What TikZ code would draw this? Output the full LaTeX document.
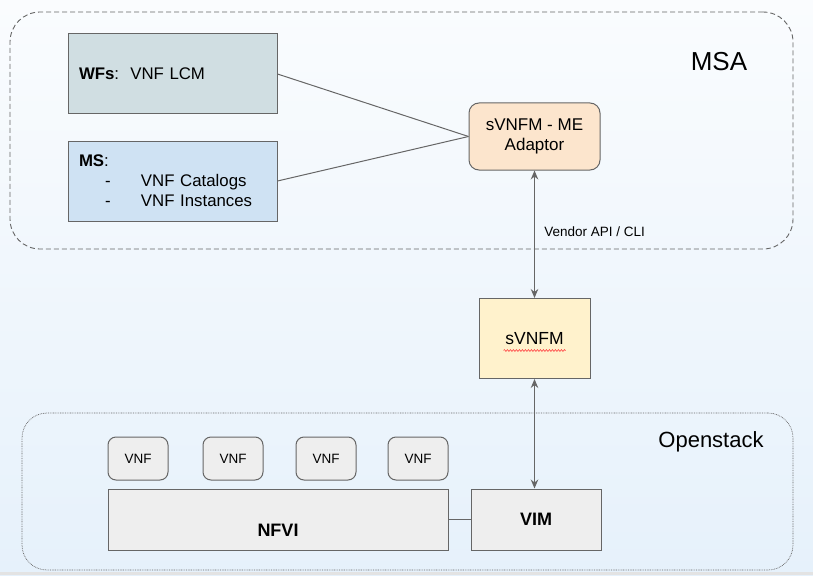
\documentclass[tikz,border=0pt]{standalone}
\usepackage{fontspec}
\setmainfont{Liberation Sans}
\usepackage{xcolor}
\usepackage{tikz}
\usetikzlibrary{arrows.meta}
\usetikzlibrary{decorations.pathmorphing}

\definecolor{edgegray}{HTML}{666666}
\definecolor{wfsfill}{HTML}{D0DEE2}
\definecolor{msfill}{HTML}{CFE2F3}
\definecolor{adaptorfill}{HTML}{FCE5CD}
\definecolor{svnfmfill}{HTML}{FFF2CC}
\definecolor{infrafill}{HTML}{EEEEEE}
\definecolor{bgtop}{HTML}{FAFCFE}
\definecolor{bgbottom}{HTML}{E6F1FB}

\tikzset{
  box/.style={draw=edgegray, line width=1pt, inner sep=0pt},
  zone/.style={draw=edgegray, line width=0.9pt, inner sep=0pt},
  link/.style={draw=edgegray, line width=1pt},
  both/.style={link, {Stealth[length=9pt,width=7.5pt,inset=3pt]}-{Stealth[length=9pt,width=7.5pt,inset=3pt]}},
}

\begin{document}
\begin{tikzpicture}[x=1pt,y=-1pt]
    \useasboundingbox (0,0) rectangle (813,575);
    \fill[top color=bgtop,bottom color=bgbottom] (0,0) rectangle (813,575);
    \fill[gray!22] (0,572) rectangle (813,575);

    % MSA zone
    \node[zone, dash pattern=on 5pt off 3pt, rounded corners=30pt,
      minimum width=783pt, minimum height=237pt] (msa) at (401.5,130.5) {};
    \node[font=\fontsize{26}{30}\selectfont] (msalabel) at (719,62) {MSA};

    \node[box, fill=wfsfill, minimum width=209pt, minimum height=80pt,
      text width=187pt, align=left, font=\fontsize{16.8}{20}\selectfont]
      (wfs) at (172.5,74) {\textbf{WFs}:\, VNF LCM};
    \node[box, fill=msfill, minimum width=209pt, minimum height=80pt,
      text width=187pt, align=left, font=\fontsize{16.8}{20}\selectfont]
      (ms) at (172.5,181) {\textbf{MS}:\\
        \makebox[62pt][l]{\hspace*{26pt}-}VNF Catalogs\\
        \makebox[62pt][l]{\hspace*{26pt}-}VNF Instances};
    \node[box, fill=adaptorfill, rounded corners=10pt, minimum width=131pt,
      minimum height=67pt, align=center, font=\fontsize{17}{20}\selectfont]
      (adaptor) at (534.5,136.5) {sVNFM - ME\\Adaptor};

    \draw[link] (wfs.east) -- (adaptor.west);
    \draw[link] (ms.east) -- (adaptor.west);

    % sVNFM
    \node[box, fill=svnfmfill, minimum width=111pt, minimum height=80pt,
      font=\fontsize{17.5}{20}\selectfont] (svnfm) at (534.5,338.5) {sVNFM};
    \draw[red!75, line width=0.6pt, decorate,
      decoration={snake, amplitude=0.9pt, segment length=3pt}]
      ([xshift=-31pt,yshift=-12pt]svnfm.center) -- ([xshift=31pt,yshift=-12pt]svnfm.center);

    \draw[both] (adaptor.south) -- (svnfm.north)
      node[pos=0.48, right=6pt, font=\fontsize{13.5}{16}\selectfont] (api) {Vendor API / CLI};

    % Openstack zone
    \node[zone, line width=0.7pt, dash pattern=on 0.8pt off 0.9pt, rounded corners=25pt,
      minimum width=771pt, minimum height=157pt] (openstack) at (407.5,491.5) {};
    \node[font=\fontsize{22}{26}\selectfont] (oslabel) at (711,442) {Openstack};

    \node[box, fill=infrafill, rounded corners=8pt, minimum width=60pt,
      minimum height=43pt, font=\fontsize{13.5}{16}\selectfont] (vnfa) at (138,458.5) {VNF};
    \node[box, fill=infrafill, rounded corners=8pt, minimum width=60pt,
      minimum height=43pt, font=\fontsize{13.5}{16}\selectfont] (vnfb) at (233,458.5) {VNF};
    \node[box, fill=infrafill, rounded corners=8pt, minimum width=60pt,
      minimum height=43pt, font=\fontsize{13.5}{16}\selectfont] (vnfc) at (326,458.5) {VNF};
    \node[box, fill=infrafill, rounded corners=8pt, minimum width=60pt,
      minimum height=43pt, font=\fontsize{13.5}{16}\selectfont] (vnfd) at (418,458.5) {VNF};

    \node[box, fill=infrafill, minimum width=340pt, minimum height=61pt,
      label={[yshift=-11pt, font=\bfseries\fontsize{18}{20}\selectfont]center:NFVI}]
      (nfvi) at (278,519.5) {};
    \node[box, fill=infrafill, minimum width=130pt, minimum height=61pt,
      font=\bfseries\fontsize{18}{20}\selectfont] (vim) at (536,519.5) {VIM};

    \draw[link] (nfvi.east) -- (vim.west);
    \draw[both] (svnfm.south) -- (svnfm.south |- vim.north);
  \end{tikzpicture}
\end{document}
